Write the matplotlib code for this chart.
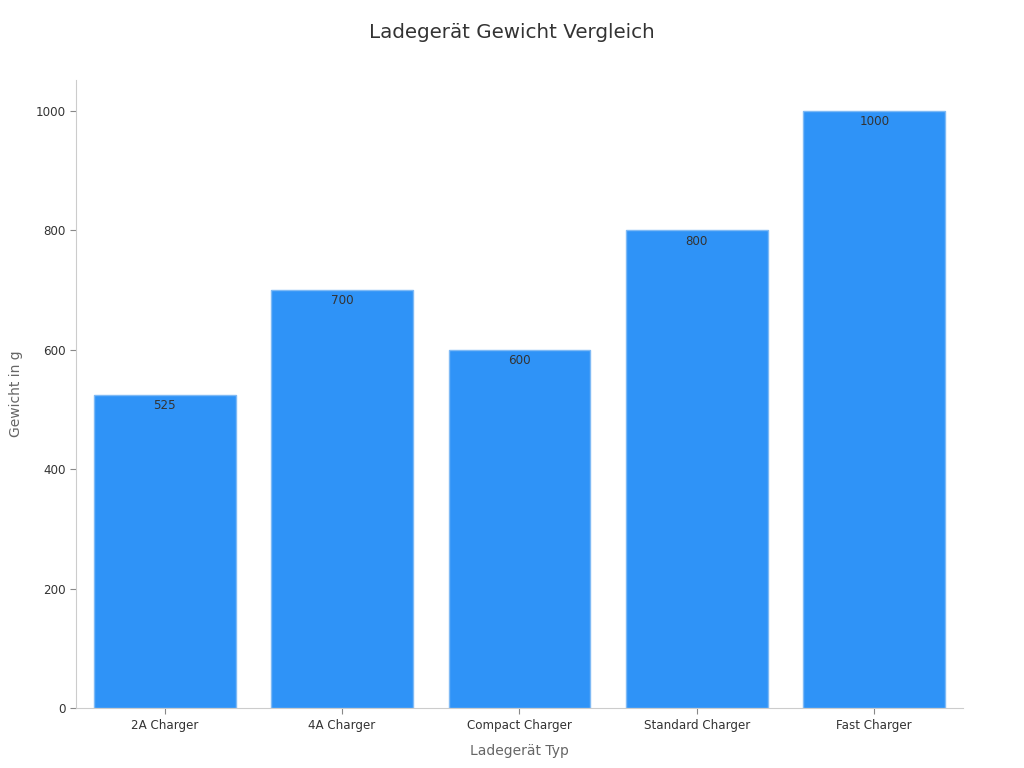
import matplotlib
matplotlib.use("Agg")
import matplotlib.pyplot as plt

# --- DATEN ---
kategorien = ["2A Charger", "4A Charger", "Compact Charger", "Standard Charger", "Fast Charger"]
gewichte = [525, 700, 600, 800, 1000]

fig = plt.figure(figsize=(10.24, 7.68), dpi=100)
ax = fig.add_axes([0.0742, 0.078, 0.8662, 0.818])

balken = ax.bar(range(len(kategorien)), gewichte, width=0.8,
                color="#2f93f7", edgecolor="#7fbaf5", linewidth=1)

for b, v in zip(balken, gewichte):
    ax.annotate(str(v), (b.get_x() + b.get_width() / 2, v),
                xytext=(0, -3), textcoords="offset points",
                ha="center", va="top", fontsize=8.6, color="#333333")

ax.set_xlim(-0.5, len(kategorien) - 0.5)
ax.set_ylim(0, 1052)
ax.set_yticks([0, 200, 400, 600, 800, 1000])
ax.set_xticks(range(len(kategorien)))
ax.set_xticklabels(kategorien)
ax.tick_params(labelsize=8.6, colors="#333333", length=4)
ax.tick_params(axis="both", color="#888888")

for s in ["top", "right"]:
    ax.spines[s].set_visible(False)
for s in ["left", "bottom"]:
    ax.spines[s].set_color("#cccccc")

ax.set_xlabel("Ladegerät Typ", fontsize=10, color="#666666", labelpad=9)
ax.set_ylabel("Gewicht in g", fontsize=10, color="#666666", labelpad=9)
fig.suptitle("Ladegerät Gewicht Vergleich", fontsize=14.3, color="#333333", y=0.97)

fig.savefig("out.png", dpi=100)
